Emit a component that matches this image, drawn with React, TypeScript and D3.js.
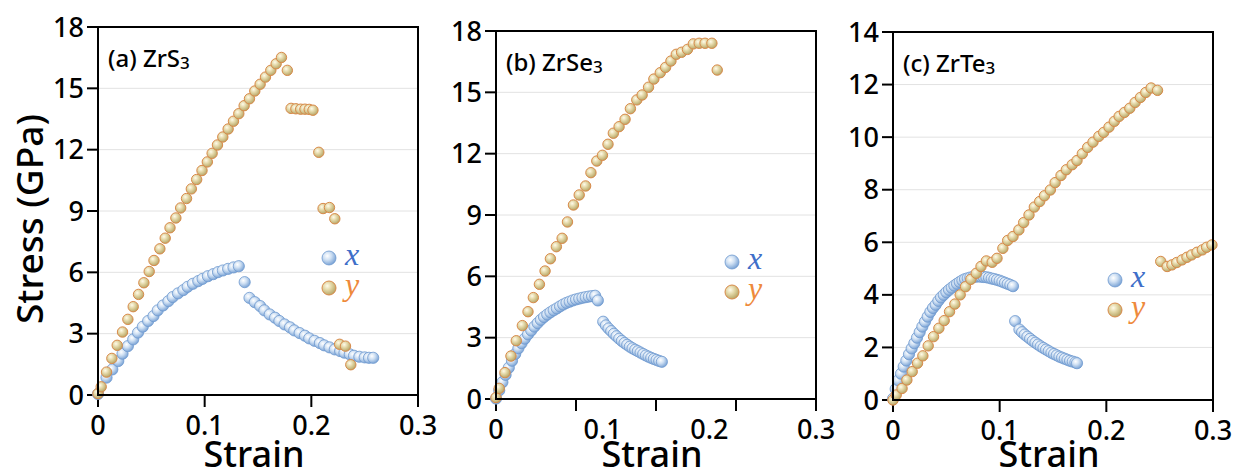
import React from 'react';
import * as d3 from 'd3';

// strain, stress (GPa)
const zrs3X: [number, number][] = [
  [0, 0.05], [0.008, 0.85], [0.0134, 1.25], [0.019, 1.66], [0.023, 2.02], [0.028, 2.39],
  [0.033, 2.72], [0.0375, 3.05], [0.042, 3.34], [0.047, 3.62], [0.052, 3.86], [0.056, 4.14],
  [0.061, 4.38], [0.066, 4.59], [0.07, 4.79], [0.075, 4.97], [0.08, 5.13], [0.084, 5.29],
  [0.089, 5.44], [0.094, 5.57], [0.098, 5.68], [0.103, 5.81], [0.108, 5.91], [0.1125, 6.01],
  [0.117, 6.09], [0.122, 6.17], [0.127, 6.24], [0.132, 6.3], [0.1375, 5.52],
  [0.142, 4.75], [0.147, 4.54], [0.152, 4.35], [0.156, 4.14], [0.161, 3.94], [0.166, 3.78],
  [0.17, 3.62], [0.175, 3.45], [0.18, 3.31], [0.184, 3.16], [0.189, 3.03], [0.194, 2.9],
  [0.198, 2.77], [0.203, 2.65], [0.208, 2.54], [0.212, 2.43], [0.217, 2.33], [0.222, 2.23],
  [0.227, 2.15], [0.231, 2.07], [0.236, 1.99], [0.24, 1.92], [0.245, 1.87], [0.25, 1.84],
  [0.254, 1.82], [0.258, 1.82],
];
const zrs3Y: [number, number][] = [
  [0, 0.07], [0.003, 0.4], [0.008, 1.12], [0.013, 1.79], [0.018, 2.43], [0.023, 3.08],
  [0.028, 3.7], [0.033, 4.32], [0.038, 4.92], [0.043, 5.49], [0.048, 6.04], [0.0525, 6.58],
  [0.058, 7.15], [0.063, 7.67], [0.0675, 8.18], [0.073, 8.66], [0.0775, 9.15], [0.083, 9.61],
  [0.0875, 10.08], [0.0925, 10.54], [0.0975, 10.98], [0.1025, 11.4], [0.107, 11.82],
  [0.112, 12.23], [0.117, 12.62], [0.122, 13.01], [0.127, 13.39], [0.132, 13.76],
  [0.137, 14.15], [0.142, 14.49], [0.147, 14.87], [0.152, 15.2], [0.157, 15.55],
  [0.162, 15.88], [0.167, 16.2], [0.172, 16.51], [0.1775, 15.88],
  [0.181, 14.02], [0.1855, 14.0], [0.19, 13.98], [0.194, 13.98], [0.198, 13.97], [0.2015, 13.93],
  [0.207, 11.87], [0.211, 9.12], [0.217, 9.17], [0.222, 8.62],
  [0.2265, 2.48], [0.232, 2.39], [0.237, 1.48],
];

const zrse3X: [number, number][] = [
  [0, 0.02], [0.003, 0.42], [0.006, 0.82], [0.009, 1.18], [0.012, 1.53], [0.015, 1.87],
  [0.018, 2.2], [0.021, 2.48], [0.024, 2.73], [0.027, 2.95], [0.03, 3.16], [0.033, 3.35],
  [0.036, 3.54], [0.039, 3.71], [0.042, 3.87], [0.045, 4.01], [0.048, 4.13], [0.051, 4.24],
  [0.054, 4.34], [0.057, 4.43], [0.06, 4.53], [0.063, 4.62], [0.066, 4.7], [0.069, 4.76],
  [0.072, 4.82], [0.075, 4.87], [0.078, 4.91], [0.081, 4.95], [0.084, 4.98], [0.087, 5.01],
  [0.09, 5.03], [0.093, 5.05], [0.0955, 4.82],
  [0.1005, 3.78], [0.103, 3.6], [0.1055, 3.45], [0.108, 3.32], [0.1105, 3.19], [0.113, 3.07],
  [0.1155, 2.95], [0.118, 2.84], [0.1205, 2.74], [0.123, 2.65], [0.1255, 2.56], [0.128, 2.48],
  [0.1305, 2.41], [0.133, 2.34], [0.1355, 2.27], [0.138, 2.2], [0.1405, 2.13], [0.143, 2.07],
  [0.1455, 2.01], [0.148, 1.96], [0.1505, 1.91], [0.153, 1.86], [0.1555, 1.82],
];
const zrse3Y: [number, number][] = [
  [0, 0.07], [0.003, 0.52], [0.0084, 1.29], [0.014, 2.1], [0.019, 2.85], [0.0247, 3.59],
  [0.03, 4.27], [0.035, 4.96], [0.0407, 5.61], [0.046, 6.26], [0.051, 6.86], [0.0566, 7.45],
  [0.062, 7.86], [0.067, 8.66], [0.0726, 9.49], [0.078, 9.98], [0.084, 10.42], [0.089, 11.07],
  [0.0945, 11.64], [0.0998, 11.92], [0.105, 12.46], [0.11, 13.0], [0.1154, 13.32],
  [0.121, 13.68], [0.126, 14.2], [0.132, 14.63], [0.137, 14.87], [0.143, 15.25],
  [0.148, 15.65], [0.154, 15.96], [0.159, 16.22], [0.164, 16.53], [0.169, 16.86],
  [0.174, 16.96], [0.1795, 17.1], [0.185, 17.37], [0.1905, 17.4], [0.196, 17.4],
  [0.2024, 17.4], [0.2074, 16.09],
];

const zrte3X: [number, number][] = [
  [0, 0.05], [0.0025, 0.42], [0.005, 0.75], [0.0075, 1.0], [0.01, 1.27], [0.0125, 1.5],
  [0.015, 1.74], [0.0175, 1.96], [0.02, 2.16], [0.0225, 2.37], [0.025, 2.58], [0.0275, 2.79],
  [0.03, 2.98], [0.0325, 3.17], [0.035, 3.35], [0.0375, 3.5], [0.04, 3.62], [0.0425, 3.77],
  [0.045, 3.9], [0.0475, 4.0], [0.05, 4.1], [0.0525, 4.19], [0.055, 4.27], [0.0575, 4.35],
  [0.06, 4.42], [0.0625, 4.49], [0.065, 4.55], [0.0675, 4.6], [0.07, 4.63], [0.0725, 4.66],
  [0.075, 4.68], [0.0775, 4.69], [0.08, 4.7], [0.0825, 4.69], [0.085, 4.68], [0.0875, 4.67],
  [0.09, 4.65], [0.0925, 4.62], [0.095, 4.6], [0.0975, 4.57], [0.1, 4.54], [0.1025, 4.5],
  [0.105, 4.46], [0.1075, 4.42], [0.11, 4.38], [0.1125, 4.33],
  [0.1145, 3.0], [0.1185, 2.68], [0.121, 2.58], [0.1235, 2.49], [0.126, 2.41], [0.1285, 2.33],
  [0.131, 2.25], [0.1335, 2.18], [0.136, 2.11], [0.1385, 2.04], [0.141, 1.98], [0.1435, 1.92],
  [0.146, 1.86], [0.1485, 1.8], [0.151, 1.75], [0.1535, 1.7], [0.156, 1.65], [0.1585, 1.61],
  [0.161, 1.57], [0.1635, 1.53], [0.166, 1.49], [0.1685, 1.46], [0.171, 1.43], [0.1725, 1.4],
];
const zrte3Y: [number, number][] = [
  [0, 0.0], [0.003, 0.19], [0.0085, 0.44], [0.013, 0.76], [0.018, 1.08], [0.023, 1.4],
  [0.028, 1.68], [0.033, 2.06], [0.038, 2.41], [0.043, 2.73], [0.048, 3.02], [0.053, 3.36],
  [0.058, 3.65], [0.063, 4.0], [0.068, 4.31], [0.073, 4.59], [0.078, 4.82], [0.0825, 5.08],
  [0.0875, 5.29], [0.093, 5.24], [0.0975, 5.39], [0.103, 5.77], [0.1075, 6.07], [0.1125, 6.22],
  [0.118, 6.47], [0.1225, 6.75], [0.1275, 7.04], [0.1325, 7.34], [0.1375, 7.55], [0.142, 7.77],
  [0.1475, 7.99], [0.152, 8.27], [0.1575, 8.54], [0.1625, 8.76], [0.168, 8.95], [0.1725, 9.11],
  [0.1775, 9.37], [0.1825, 9.61], [0.1875, 9.81], [0.193, 10.03], [0.1975, 10.18],
  [0.2025, 10.38], [0.2075, 10.6], [0.212, 10.79], [0.217, 10.94], [0.222, 11.1],
  [0.227, 11.32], [0.232, 11.51], [0.237, 11.7], [0.242, 11.87], [0.248, 11.78],
  [0.251, 5.27], [0.257, 5.08], [0.2615, 5.14], [0.266, 5.23], [0.271, 5.33], [0.2756, 5.43],
  [0.28, 5.52], [0.285, 5.62], [0.29, 5.71], [0.294, 5.81], [0.299, 5.9],
];

const xLabels = [0, 0.1, 0.2, 0.3];
const yTicks18 = [0, 3, 6, 9, 12, 15, 18];
const yTicks14 = [0, 2, 4, 6, 8, 10, 12, 14];

const panels = [
  {
    key: 'a', tag: '(a)', name: 'ZrS', sub: '3',
    left: 98, top: 27, bottom: 395, yMax: 18, yTicks: yTicks18,
    xMarks: [0, 0.1, 0.2, 0.3],
    sx: zrs3X, sy: zrs3Y, legend: [329, 258],
  },
  {
    key: 'b', tag: '(b)', name: 'ZrSe', sub: '3',
    left: 496, top: 31, bottom: 399, yMax: 18, yTicks: yTicks18,
    xMarks: [0, 0.075, 0.15, 0.225, 0.3],
    sx: zrse3X, sy: zrse3Y, legend: [732, 262],
  },
  {
    key: 'c', tag: '(c)', name: 'ZrTe', sub: '3',
    left: 893, top: 32, bottom: 400, yMax: 14, yTicks: yTicks14,
    xMarks: [0, 0.1, 0.2, 0.3],
    sx: zrte3X, sy: zrte3Y, legend: [1115, 280],
  },
];

const font = '"Noto Sans", "Open Sans", sans-serif';

export default function App() {
  const W = 1236, H = 474, pw = 320;
  return (
    <svg width={W} height={H} style={{ position: 'absolute', left: 0, top: 0, background: '#fff' }}>
      <defs>
        <radialGradient id="ballBlue" cx="38%" cy="35%" r="65%">
          <stop offset="0%" stopColor="#ffffff" />
          <stop offset="45%" stopColor="#cfe0f3" />
          <stop offset="100%" stopColor="#7da5d6" />
        </radialGradient>
        <radialGradient id="ballTan" cx="38%" cy="35%" r="65%">
          <stop offset="0%" stopColor="#fffbea" />
          <stop offset="45%" stopColor="#e3d8a8" />
          <stop offset="100%" stopColor="#b9a768" />
        </radialGradient>
      </defs>

      <text transform="translate(43,219) rotate(-90)" textAnchor="middle"
        fontFamily={font} fontSize={37} fontWeight={500}>Stress (GPa)</text>

      {panels.map((p) => {
        const x = d3.scaleLinear().domain([0, 0.3]).range([p.left, p.left + pw]);
        const y = d3.scaleLinear().domain([0, p.yMax]).range([p.bottom, p.top]);
        return (
          <g key={p.key}>
            {p.yTicks.filter((t) => t > 0 && t < p.yMax).map((t) => (
              <line key={'g' + t} x1={p.left} x2={p.left + pw} y1={y(t)} y2={y(t)}
                stroke="#e2e2e2" strokeWidth={1} />
            ))}
            {p.yTicks.map((t) => (
              <g key={'y' + t}>
                <line x1={p.left - 11} x2={p.left} y1={y(t)} y2={y(t)} stroke="#000" strokeWidth={2} />
                <text x={p.left - 14} y={y(t) + 9.5} textAnchor="end" fontFamily={font}
                  fontSize={27} fontWeight={500}>{t}</text>
              </g>
            ))}
            {p.xMarks.map((t) => (
              <line key={'xm' + t} x1={x(t)} x2={x(t)} y1={p.bottom} y2={p.bottom + 12}
                stroke="#000" strokeWidth={2} />
            ))}
            {xLabels.map((t) => (
              <text key={'xl' + t} x={x(t)} y={p.bottom + 40} textAnchor="middle"
                fontFamily={font} fontSize={27} fontWeight={500}>{t}</text>
            ))}
            <text x={p.left + 156} y={467} textAnchor="middle" fontFamily={font}
              fontSize={36} fontWeight={500}>Strain</text>

            {p.sx.map((d, i) => (
              <circle key={'bx' + i} cx={x(d[0])} cy={y(d[1])} r={5.6}
                fill="url(#ballBlue)" stroke="#6f99cf" strokeWidth={0.8} />
            ))}
            {p.sy.map((d, i) => (
              <circle key={'by' + i} cx={x(d[0])} cy={y(d[1])} r={5.2}
                fill="url(#ballTan)" stroke="#d98a4a" strokeWidth={1} />
            ))}

            <rect x={p.left} y={p.top} width={pw} height={p.bottom - p.top}
              fill="none" stroke="#000" strokeWidth={2} />

            <text x={p.left + 10} y={p.top + 40} fontFamily={font} fontSize={24} fontWeight={500}>
              {p.tag + ' ' + p.name}
              <tspan fontSize={17} dy={2}>{p.sub}</tspan>
            </text>

            <circle cx={p.legend[0]} cy={p.legend[1]} r={7} fill="url(#ballBlue)" stroke="#6f99cf" strokeWidth={0.8} />
            <circle cx={p.legend[0]} cy={p.legend[1] + 30} r={7} fill="url(#ballTan)" stroke="#d98a4a" strokeWidth={1} />
            <text x={p.legend[0] + 16} y={p.legend[1] + 7} fontFamily='"Liberation Serif", "DejaVu Serif", serif'
              fontStyle="italic" fontSize={32} fill="#3f6fc9">x</text>
            <text x={p.legend[0] + 16} y={p.legend[1] + 37} fontFamily='"Liberation Serif", "DejaVu Serif", serif'
              fontStyle="italic" fontSize={32} fill="#ee8a3c">y</text>
          </g>
        );
      })}
    </svg>
  );
}
